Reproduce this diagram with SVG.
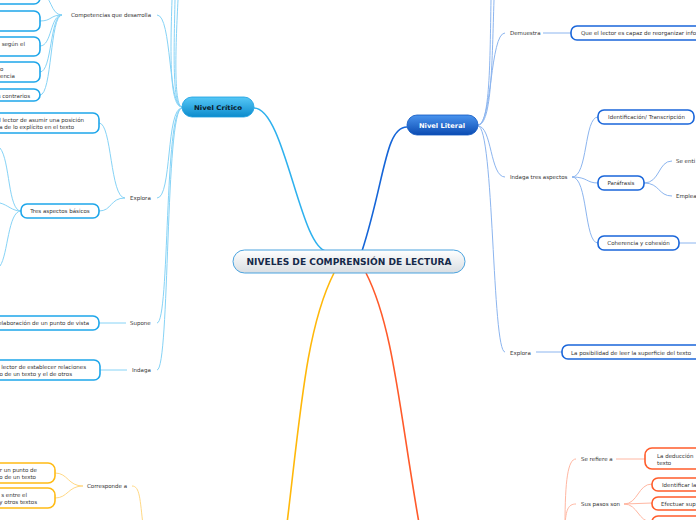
<svg xmlns="http://www.w3.org/2000/svg" width="696" height="520" viewBox="0 0 696 520">
<defs>
<linearGradient id="gC" x1="0" y1="0" x2="0" y2="1"><stop offset="0" stop-color="#ffffff"/><stop offset="1" stop-color="#d9dee2"/></linearGradient>
<linearGradient id="gK" x1="0" y1="0" x2="0" y2="1"><stop offset="0" stop-color="#56c8f7"/><stop offset="1" stop-color="#0c8bcc"/></linearGradient>
<linearGradient id="gL" x1="0" y1="0" x2="0" y2="1"><stop offset="0" stop-color="#4a94ee"/><stop offset="1" stop-color="#0b4bb2"/></linearGradient>
<style>
.lbl{font-family:"DejaVu Sans",Verdana,sans-serif;font-size:5.5px;fill:#333}
.bx{fill:#fff;stroke-width:1.6}
.k{stroke:#1ea6ea}.l{stroke:#1a66da}.r{stroke:#ff5c2b}.o{stroke:#ffbb14}
.c{fill:none}
.ck{stroke:#86d3f6;stroke-width:1}
.cl{stroke:#8cb5ef;stroke-width:1}
.cr{stroke:#ffb7a2;stroke-width:1}
.co{stroke:#ffd985;stroke-width:1}
</style>
</defs>
<rect width="696" height="520" fill="#fff"/>
<g id="connectors" class="c">
<path d="M254,108 C285,108 300,250 327,251" stroke="#2eb1ee" stroke-width="1.6"/>
<path d="M362,251 C385,180 385,127 407,127" stroke="#1565d8" stroke-width="1.6"/>
<path d="M334,273 C305,330 300,420 285,540" stroke="#ffb80a" stroke-width="1.6"/>
<path d="M366,273 C395,330 400,420 422,540" stroke="#ff5a2a" stroke-width="1.6"/>
<g class="ck">
<path d="M182,107 C168,107 172,15 157,15"/>
<path d="M182,107 C170,107 170,60 172,0"/>
<path d="M182,107 C172,107 174,50 175,0"/>
<path d="M182,107 C173,106 176,40 178,0"/>
<path d="M182,108 C166,108 172,198 157,198"/>
<path d="M182,108 C164,108 170,323 157,323"/>
<path d="M182,108 C165,108 170,370 157,370"/>
<path d="M62,15 C50,15 52,-6 40,-6"/>
<path d="M62,15 C50,15 52,21 40,21"/>
<path d="M62,15 C50,15 52,46 40,46"/>
<path d="M62,15 C50,15 52,72 40,72"/>
<path d="M62,15 C50,15 52,95 40,95"/>
<path d="M125,198 C110,198 112,123 99,123"/>
<path d="M125,198 C110,198 112,211 99,211"/>
<path d="M21,211 C8,211 10,160 0,148"/>
<path d="M21,211 C12,211 8,205 0,203"/>
<path d="M21,211 C8,211 8,255 0,266"/>
<path d="M126,323 L99,323"/>
<path d="M127,370 L100,370"/>
</g>
<g class="cl">
<path d="M478,125 C490,125 490,60 491,0"/>
<path d="M478,125 C492,125 492,60 494,0"/>
<path d="M478,125 C492,125 490,33 505,33"/>
<path d="M478,126 C492,126 490,177 505,177"/>
<path d="M478,126 C494,126 492,352 505,352"/>
<path d="M543,33 L571,33"/>
<path d="M572,177 C588,177 584,117 598,117"/>
<path d="M572,177 C588,177 586,183 598,183"/>
<path d="M572,177 C588,177 584,243 598,243"/>
<path d="M644,183 C660,183 658,161 672,161"/>
<path d="M644,183 C660,183 658,196 672,196"/>
<path d="M679,243 L696,243"/>
<path d="M536,352 L562,352"/>
</g>
<g class="cr">
<path d="M565,525 C565,480 568,459 576,459"/>
<path d="M565,525 C566,510 568,504 576,504"/>
<path d="M616,459 L645,459"/>
<path d="M624,504 C638,504 638,484 652,484"/>
<path d="M624,504 L652,503"/>
<path d="M624,504 C638,504 638,522 652,522"/>
</g>
<g class="co">
<path d="M143,525 C140,500 140,486 132,486"/>
<path d="M83,486 C68,486 68,473 55,473"/>
<path d="M83,486 C68,486 68,498 55,498"/>
</g>
</g>
<g id="center">
<rect x="233" y="250" width="232" height="23" rx="11.5" fill="url(#gC)" stroke="#4aa3df" stroke-width="1"/>
<text x="349" y="265" text-anchor="middle" textLength="205" lengthAdjust="spacingAndGlyphs" font-family="DejaVu Sans,Verdana,sans-serif" font-size="8.2" font-weight="bold" fill="#152a4a">NIVELES DE COMPRENSIÓN DE LECTURA</text>
</g>
<g id="nivel-critico">
<rect x="182" y="97" width="72" height="20" rx="10" fill="url(#gK)" stroke="#1a9ee0" stroke-width="0.8"/>
<text x="218" y="110" text-anchor="middle" textLength="48" lengthAdjust="spacingAndGlyphs" font-family="DejaVu Sans,Verdana,sans-serif" font-size="6.5" font-weight="bold" fill="#0a1a2a">Nivel Crítico</text>
</g>
<g id="nivel-literal">
<rect x="407" y="115" width="71" height="20" rx="10" fill="url(#gL)" stroke="#0d55c0" stroke-width="0.8"/>
<text x="442" y="128" text-anchor="middle" textLength="46" lengthAdjust="spacingAndGlyphs" font-family="DejaVu Sans,Verdana,sans-serif" font-size="6.5" font-weight="bold" fill="#fff">Nivel Literal</text>
</g>
<g id="competencias"><text class="lbl" x="71" y="17" textLength="80">Competencias que desarrolla</text></g>
<g id="comp-1"><rect class="bx k" x="-10" y="-20" width="50" height="24" rx="6"/></g>
<g id="comp-2"><rect class="bx k" x="-10" y="11" width="50" height="20" rx="6"/></g>
<g id="comp-3"><rect class="bx k" x="-10" y="37" width="50" height="19" rx="6"/><text class="lbl" x="25" y="46" text-anchor="end">según el</text></g>
<g id="comp-4"><rect class="bx k" x="-10" y="62" width="50" height="20" rx="6"/><text class="lbl" x="0" y="71">o</text><text class="lbl" x="0" y="78">encia</text></g>
<g id="comp-5"><rect class="bx k" x="-10" y="89" width="50" height="12" rx="6"/><text class="lbl" x="30" y="97.5" text-anchor="end">s contrarios</text></g>
<g id="explora-k"><text class="lbl" x="130" y="200">Explora</text></g>
<g id="posicion"><rect class="bx k" x="-10" y="113" width="109" height="20" rx="6"/><text class="lbl" x="84" y="122" text-anchor="end">l lector de asumir una posición</text><text class="lbl" x="74" y="129" text-anchor="end">a de lo explícito en el texto</text></g>
<g id="tres-aspectos"><rect class="bx k" x="21" y="204" width="78" height="14" rx="6"/><text class="lbl" x="60" y="213" text-anchor="middle">Tres aspectos básicos</text></g>
<g id="supone"><text class="lbl" x="130" y="325">Supone</text></g>
<g id="elaboracion"><rect class="bx k" x="-10" y="316" width="109" height="14" rx="6"/><text class="lbl" x="89" y="325" text-anchor="end">elaboración de un punto de vista</text></g>
<g id="indaga-k"><text class="lbl" x="132" y="372">Indaga</text></g>
<g id="relaciones"><rect class="bx k" x="-10" y="360" width="110" height="20" rx="6"/><text class="lbl" x="86" y="369" text-anchor="end">lector de establecer relaciones</text><text class="lbl" x="72" y="376" text-anchor="end">o de un texto y el de otros</text></g>
<g id="demuestra"><text class="lbl" x="510" y="35">Demuestra</text></g>
<g id="reorganizar"><rect class="bx l" x="571" y="26" width="140" height="14" rx="6"/><text class="lbl" x="581" y="35">Que el lector es capaz de reorganizar info</text></g>
<g id="indaga-tres"><text class="lbl" x="510" y="179">Indaga tres aspectos</text></g>
<g id="identificacion"><rect class="bx l" x="598" y="110" width="96" height="14" rx="6"/><text class="lbl" x="608" y="119" textLength="77">Identificación/ Transcripción</text></g>
<g id="parafrasis"><rect class="bx l" x="598" y="176" width="46" height="14" rx="6"/><text class="lbl" x="621" y="185" text-anchor="middle">Paráfrasis</text></g>
<g id="se-enti"><text class="lbl" x="676" y="163">Se enti</text></g>
<g id="emplea"><text class="lbl" x="676" y="198">Emplea</text></g>
<g id="coherencia"><rect class="bx l" x="598" y="236" width="81" height="14" rx="6"/><text class="lbl" x="638.5" y="245" text-anchor="middle">Coherencia y cohesión</text></g>
<g id="explora-l"><text class="lbl" x="510" y="355">Explora</text></g>
<g id="superficie"><rect class="bx l" x="562" y="345" width="150" height="14" rx="6"/><text class="lbl" x="571" y="354.5" textLength="120">La posibilidad de leer la superficie del texto</text></g>
<g id="se-refiere"><text class="lbl" x="581" y="461">Se refiere a</text></g>
<g id="deduccion"><rect class="bx r" x="645" y="448" width="70" height="21" rx="7"/><text class="lbl" x="657" y="458">La deducción</text><text class="lbl" x="657" y="465">texto</text></g>
<g id="sus-pasos"><text class="lbl" x="581" y="506">Sus pasos son</text></g>
<g id="paso-1"><rect class="bx r" x="652" y="478" width="60" height="13" rx="6"/><text class="lbl" x="662" y="486.5">Identificar la</text></g>
<g id="paso-2"><rect class="bx r" x="652" y="497" width="60" height="13" rx="6"/><text class="lbl" x="661" y="505.5">Efectuar sup</text></g>
<g id="paso-3"><rect class="bx r" x="652" y="516" width="60" height="13" rx="6"/></g>
<g id="corresponde"><text class="lbl" x="87" y="488">Corresponde a</text></g>
<g id="punto-vista"><rect class="bx o" x="-10" y="463" width="65" height="20" rx="7"/><text class="lbl" x="37" y="472" text-anchor="end">r un punto de</text><text class="lbl" x="36" y="479" text-anchor="end">o de un texto</text></g>
<g id="otros-textos"><rect class="bx o" x="-10" y="488" width="65" height="20" rx="7"/><text class="lbl" x="27" y="497" text-anchor="end">s entre el</text><text class="lbl" x="37" y="504" text-anchor="end">y otros textos</text></g>
</svg>
